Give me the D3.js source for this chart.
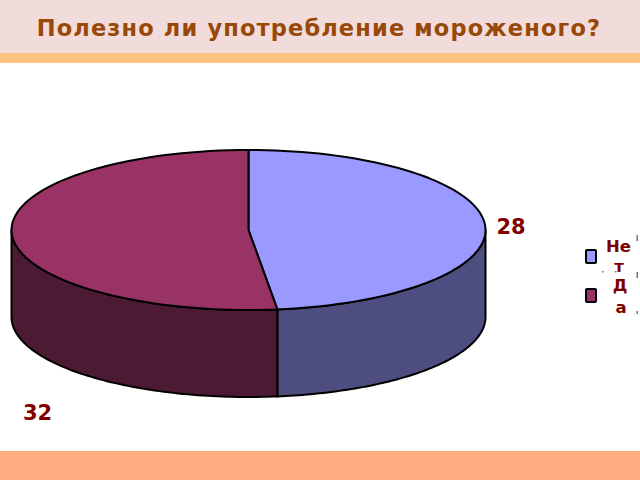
<!DOCTYPE html>
<html>
<head>
<meta charset="utf-8">
<title>Полезно ли употребление мороженого?</title>
<script src="https://d3js.org/d3.v7.min.js"></script>
<style>
  html, body { margin: 0; padding: 0; background: #fff; overflow: hidden; }
  svg { display: block; font-family: "DejaVu Sans", sans-serif; font-weight: bold; }
</style>
</head>
<body>
<div id="chart"></div>
<script>
const titleText = "Полезно ли употребление мороженого?";
const categories = ["Нет", "Да"];
const values = [28, 32];
const legendLines = [["Не", "т"], ["Д", "а"]];
const topColors = ["#9999ff", "#993366"];
const sideColors = ["#4d4d80", "#4d1a33"];

const width = 640, height = 480;

//  pie geometry
const cx = 248.5, cy = 230, rx = 237, ry = 80, depth = 87;
//  perspective squeezes the angles towards the front of the pie
const perspective = 1.72;

const svg = d3.select("#chart").append("svg")
    .attr("width", width)
    .attr("height", height);

//  slide bands
svg.append("rect").attr("width", width).attr("height", 53).attr("fill", "#f2dcdb");
svg.append("rect").attr("y", 53).attr("width", width).attr("height", 10).attr("fill", "#fcc47e");
svg.append("rect").attr("y", 451).attr("width", width).attr("height", 29).attr("fill", "#fdab7f");

svg.append("text")
    .attr("x", 319)
    .attr("y", 36)
    .attr("text-anchor", "middle")
    .attr("font-size", 22.5)
    .attr("letter-spacing", 1.15)
    .attr("fill", "#984807")
    .text(titleText);

const color = d3.scaleOrdinal().domain(categories).range(topColors);
const sideColor = d3.scaleOrdinal().domain(categories).range(sideColors);

const arcs = d3.pie().sort(null)(values).map((d, i) => ({...d, name: categories[i]}));

//  pie angle -> angle on the drawn ellipse, 0 at the back, PI at the front
function warp(a) {
    if (a <= 0 || a >= 2 * Math.PI) return a;
    if (Math.abs(a - Math.PI) < 1e-6) return a;
    let t = 2 * Math.atan(perspective * Math.tan(a / 2));
    return t < 0 ? t + 2 * Math.PI : t;
}

const px = t => cx + rx * Math.sin(t);
const py = t => cy - ry * Math.cos(t);

function samples(a0, a1) {
    return d3.range(0, 81).map(i => a0 + (a1 - a0) * i / 80);
}

const line = d3.line();

//  front wall, only the part of each slice on the lower half of the ellipse
function wallPath(d) {
    const t0 = Math.max(warp(d.startAngle), Math.PI / 2);
    const t1 = Math.min(warp(d.endAngle), 3 * Math.PI / 2);
    const s = samples(t0, t1);
    const lower = s.map(t => [px(t), py(t) + depth]);
    const upper = s.slice().reverse().map(t => [px(t), py(t)]);
    return line(lower.concat(upper)) + "Z";
}

function topPath(d) {
    const pts = samples(warp(d.startAngle), warp(d.endAngle)).map(t => [px(t), py(t)]);
    return line([[cx, cy]].concat(pts)) + "Z";
}

svg.append("g")
    .selectAll("path")
    .data(arcs)
    .join("path")
    .attr("d", wallPath)
    .attr("fill", d => sideColor(d.name))
    .attr("stroke", "#000")
    .attr("stroke-width", 2)
    .attr("stroke-linejoin", "round");

svg.append("g")
    .selectAll("path")
    .data(arcs)
    .join("path")
    .attr("d", topPath)
    .attr("fill", d => color(d.name))
    .attr("stroke", "#000")
    .attr("stroke-width", 2)
    .attr("stroke-linejoin", "round");

//  value labels
const labelX = [511, 37.5], labelY = [234, 420];
svg.append("g")
    .selectAll("text")
    .data(values)
    .join("text")
    .attr("x", (d, i) => labelX[i])
    .attr("y", (d, i) => labelY[i])
    .attr("text-anchor", "middle")
    .attr("font-size", 21)
    .attr("fill", "#800000")
    .text(d => d);

//  legend
const legend = svg.append("g");
const swatchY = [250, 289];
legend.selectAll("rect")
    .data(categories)
    .join("rect")
    .attr("x", 586)
    .attr("y", (d, i) => swatchY[i])
    .attr("width", 10)
    .attr("height", 13)
    .attr("rx", 1)
    .attr("fill", d => color(d))
    .attr("stroke", "#000")
    .attr("stroke-width", 2);

const legendBase = [[252, 272], [291, 313]];
const legendX = [[618.5, 619], [620, 621]];
legendLines.forEach((rows, i) => {
    rows.forEach((s, j) => {
        legend.append("text")
            .attr("x", legendX[i][j])
            .attr("y", legendBase[i][j])
            .attr("text-anchor", "middle")
            .attr("font-size", 16.5)
            .attr("fill", "#800000")
            .text(s);
    });
});

//  leftover specks around the legend frame
const specks = [[602, 271, 1.5, 1.5], [615, 271, 1.5, 1.5], [636.5, 235, 1.5, 6], [636.5, 272, 1.5, 6], [636.5, 311, 1.5, 3]];
svg.append("g")
    .selectAll("rect")
    .data(specks)
    .join("rect")
    .attr("x", d => d[0])
    .attr("y", d => d[1])
    .attr("width", d => d[2])
    .attr("height", d => d[3])
    .attr("fill", "#777");
</script>
</body>
</html>
